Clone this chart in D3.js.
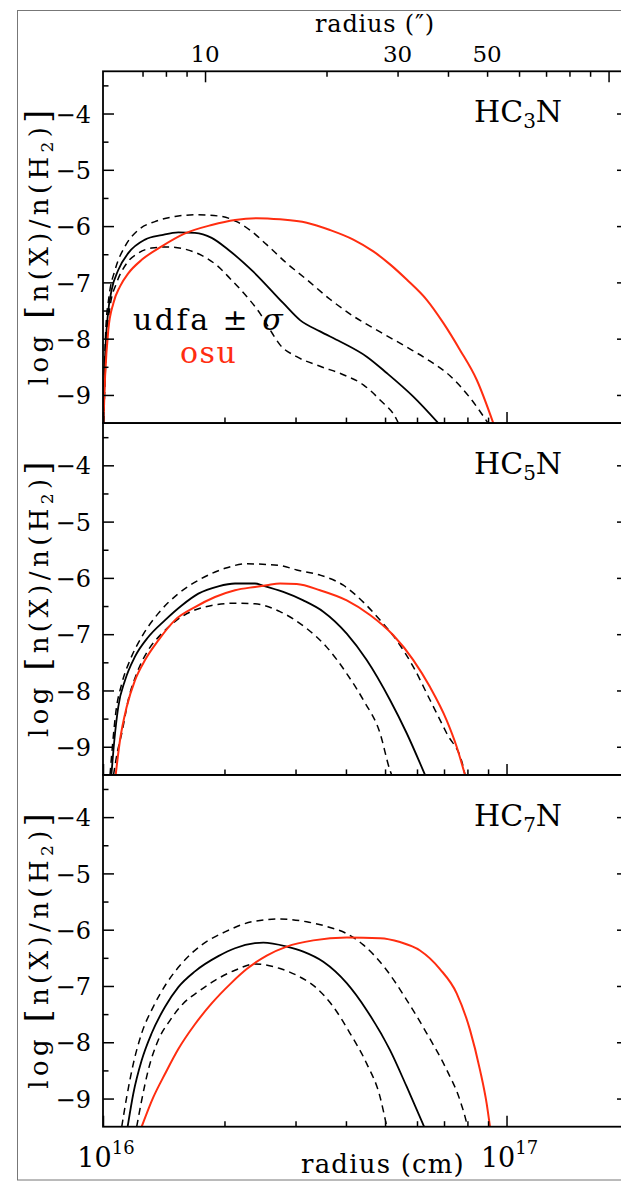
<!DOCTYPE html>
<html>
<head>
<meta charset="utf-8">
<script src="https://cdn.jsdelivr.net/npm/d3@7"></script>
<style>
  body { margin: 0; background: #fff; }
  svg { display: block; }
  text { font-family: "DejaVu Serif", serif; }
</style>
</head>
<body>
<svg id="chart" width="621" height="1183"></svg>
<script>
// Abundance profiles: [radius (1e16 cm), log n(X)/n(H2)]
const species = ["HC3N", "HC5N", "HC7N"];

const hc3nUdfa = [[1.002,-9.50],[1.012,-8.32],[1.027,-7.61],[1.051,-7.13],[1.091,-6.78],[1.155,-6.48],[1.271,-6.24],[1.398,-6.16],[1.537,-6.11],[1.690,-6.12],[1.859,-6.21],[2.044,-6.42],[2.357,-6.81],[2.798,-7.37],[3.078,-7.67],[3.450,-7.87],[3.867,-8.05],[4.503,-8.32],[5.048,-8.61],[5.875,-9.03],[6.774,-9.50]];
const hc3nUdfaHi = [[1.002,-9.50],[1.006,-8.90],[1.016,-7.84],[1.035,-7.25],[1.071,-6.78],[1.134,-6.36],[1.223,-6.07],[1.345,-5.92],[1.508,-5.83],[1.690,-5.80],[1.931,-5.82],[2.144,-5.92],[2.313,-6.07],[2.545,-6.33],[2.853,-6.66],[3.198,-6.95],[3.652,-7.30],[4.172,-7.60],[4.859,-7.88],[5.658,-8.15],[6.463,-8.40],[7.242,-8.66],[8.118,-9.05],[8.996,-9.50]];
const hc3nUdfaLo = [[1.004,-9.50],[1.021,-8.02],[1.041,-7.43],[1.081,-7.01],[1.145,-6.66],[1.223,-6.48],[1.320,-6.39],[1.452,-6.37],[1.597,-6.41],[1.756,-6.52],[1.931,-6.72],[2.064,-6.93],[2.270,-7.25],[2.449,-7.55],[2.593,-7.84],[2.746,-8.11],[3.020,-8.32],[3.450,-8.49],[3.940,-8.64],[4.417,-8.82],[4.859,-9.09],[5.345,-9.44],[5.394,-9.50]];
const hc3nOsu = [[1.002,-9.50],[1.012,-8.67],[1.031,-7.84],[1.061,-7.37],[1.102,-7.07],[1.155,-6.84],[1.247,-6.60],[1.398,-6.36],[1.597,-6.13],[1.859,-5.98],[2.124,-5.89],[2.404,-5.86],[2.746,-5.88],[3.198,-5.94],[3.652,-6.07],[4.172,-6.24],[4.676,-6.45],[5.144,-6.68],[5.658,-6.95],[6.342,-7.31],[6.970,-7.72],[7.667,-8.20],[8.434,-8.73],[9.272,-9.50]];

const hc5nUdfa = [[1.049,-9.50],[1.067,-8.88],[1.091,-8.29],[1.134,-7.82],[1.200,-7.40],[1.295,-7.05],[1.425,-6.75],[1.567,-6.49],[1.723,-6.28],[1.931,-6.15],[2.124,-6.10],[2.380,-6.10],[2.496,-6.14],[2.798,-6.25],[3.136,-6.40],[3.515,-6.60],[4.018,-6.99],[4.503,-7.46],[5.144,-8.17],[5.658,-8.76],[6.281,-9.50]];
const hc5nUdfaHi = [[1.041,-9.50],[1.055,-9.00],[1.075,-8.41],[1.113,-7.88],[1.167,-7.46],[1.247,-7.05],[1.371,-6.63],[1.537,-6.28],[1.756,-6.01],[2.006,-5.83],[2.270,-5.75],[2.746,-5.78],[3.020,-5.86],[3.450,-5.95],[3.940,-6.13],[4.417,-6.43],[4.859,-6.75],[5.344,-7.11],[5.875,-7.58],[6.463,-8.17],[7.107,-8.76],[7.813,-9.36],[7.889,-9.50]];
const hc5nUdfaLo = [[1.062,-9.50],[1.085,-9.10],[1.113,-8.76],[1.155,-8.17],[1.212,-7.70],[1.295,-7.28],[1.398,-6.99],[1.523,-6.75],[1.690,-6.57],[1.859,-6.49],[2.124,-6.45],[2.380,-6.46],[2.746,-6.60],[3.198,-6.90],[3.584,-7.23],[4.018,-7.70],[4.417,-8.17],[4.859,-8.76],[5.144,-9.42],[5.193,-9.50]];
const hc5nOsu = [[1.075,-9.50],[1.102,-8.88],[1.145,-8.29],[1.200,-7.82],[1.271,-7.46],[1.371,-7.11],[1.508,-6.75],[1.690,-6.52],[1.895,-6.34],[2.124,-6.22],[2.380,-6.16],[2.545,-6.13],[2.746,-6.10],[3.020,-6.11],[3.450,-6.22],[4.018,-6.40],[4.589,-6.66],[5.242,-7.02],[5.875,-7.46],[6.463,-7.94],[7.107,-8.53],[7.524,-9.00],[7.890,-9.50]];

const hc7nUdfa = [[1.151,-9.50],[1.189,-8.91],[1.247,-8.32],[1.320,-7.84],[1.425,-7.37],[1.537,-7.02],[1.690,-6.74],[1.931,-6.47],[2.124,-6.33],[2.380,-6.24],[2.496,-6.23],[2.853,-6.30],[3.136,-6.39],[3.515,-6.57],[4.018,-6.95],[4.503,-7.43],[5.144,-8.14],[5.658,-8.79],[6.250,-9.50]];
const hc7nUdfaHi = [[1.113,-9.50],[1.145,-8.97],[1.189,-8.38],[1.247,-7.84],[1.332,-7.37],[1.438,-6.95],[1.567,-6.60],[1.756,-6.27],[2.006,-6.04],[2.336,-5.86],[2.746,-5.81],[3.198,-5.86],[3.652,-5.96],[4.018,-6.07],[4.417,-6.27],[5.048,-6.72],[5.658,-7.25],[6.342,-7.84],[7.107,-8.49],[7.667,-9.03],[7.966,-9.44],[8.000,-9.50]];
const hc7nUdfaLo = [[1.212,-9.50],[1.247,-9.03],[1.295,-8.49],[1.371,-7.96],[1.466,-7.61],[1.581,-7.31],[1.723,-7.10],[1.895,-6.90],[2.124,-6.72],[2.380,-6.61],[2.496,-6.62],[2.746,-6.69],[3.020,-6.81],[3.385,-7.04],[3.722,-7.37],[4.094,-7.84],[4.503,-8.38],[4.859,-8.97],[5.048,-9.50]];
const hc7nOsu = [[1.247,-9.50],[1.332,-8.98],[1.425,-8.56],[1.537,-8.12],[1.690,-7.68],[1.859,-7.31],[2.084,-6.94],[2.270,-6.70],[2.545,-6.46],[2.853,-6.30],[3.320,-6.19],[4.018,-6.14],[4.859,-6.15],[5.446,-6.22],[6.104,-6.37],[6.840,-6.70],[7.524,-7.13],[8.118,-7.78],[8.594,-8.49],[8.929,-9.09],[9.099,-9.50]];

const panelSeries = [
  { udfa: hc3nUdfa, hi: hc3nUdfaHi, lo: hc3nUdfaLo, osu: hc3nOsu },
  { udfa: hc5nUdfa, hi: hc5nUdfaHi, lo: hc5nUdfaLo, osu: hc5nOsu },
  { udfa: hc7nUdfa, hi: hc7nUdfaHi, lo: hc7nUdfaLo, osu: hc7nOsu }
];

// Axis ticks
const yMajorTicks = [-9, -8, -7, -6, -5, -4];
const yMinorTicks = [-8.5, -7.5, -6.5, -5.5, -4.5, -3.5];
const xMajorTicks = [1e16, 1e17, 2e17];
const xMinorTicks = [2e16, 3e16, 4e16, 5e16, 6e16, 7e16, 8e16, 9e16];
const arcMajorTicks = [10, 100];
const arcMinorTicks = [7, 8, 9, 20, 30, 40, 50, 60, 70, 80, 90];
const arcLabels = [10, 30, 50];
const cmPerArcsec = 1.79e15;

const RED = "#ff2d10";
const left = 103, right = 628, top0 = 71.3, panelH = 351.8;

const svg = d3.select("#chart");

// outer frame
svg.append("rect")
  .attr("x", 17.5).attr("y", 10.5).attr("width", 640).attr("height", 1169.5)
  .attr("fill", "none").attr("stroke", "#777").attr("stroke-width", 1);

const x = d3.scaleLog().domain([1e16, 2e17]).range([left, right]);
const xArc = d3.scaleLog().domain([1e16 / cmPerArcsec, 2e17 / cmPerArcsec]).range([left, right]);

function styleTicks(g, w) {
  g.select(".domain").remove();
  g.selectAll(".tick line").attr("stroke", "#000").attr("stroke-width", w);
}

const lineGen = (y) => d3.line()
  .x(d => x(d[0] * 1e16))
  .y(d => y(d[1]))
  .curve(d3.curveMonotoneX);

panelSeries.forEach((s, i) => {
  const top = top0 + i * panelH;
  const bottom = top + panelH;
  const y = d3.scaleLinear().domain([-9.5, -3.25]).range([bottom, top]);
  const g = svg.append("g");

  const clipId = "clip" + i;
  svg.append("clipPath").attr("id", clipId)
    .append("rect").attr("x", left).attr("y", top).attr("width", right - left).attr("height", panelH);

  const lines = g.append("g").attr("clip-path", `url(#${clipId})`).attr("fill", "none");
  const lg = lineGen(y);
  lines.append("path").attr("d", lg(s.hi)).attr("stroke", "#000").attr("stroke-width", 1.5).attr("stroke-dasharray", "7,5");
  lines.append("path").attr("d", lg(s.lo)).attr("stroke", "#000").attr("stroke-width", 1.5).attr("stroke-dasharray", "7,5");
  lines.append("path").attr("d", lg(s.udfa)).attr("stroke", "#000").attr("stroke-width", 1.8);
  lines.append("path").attr("d", lg(s.osu)).attr("stroke", RED).attr("stroke-width", 2);

  // left axis
  const la = g.append("g").attr("transform", `translate(${left},0)`)
    .call(d3.axisLeft(y).tickValues(yMajorTicks).tickSize(-11).tickPadding(12)
      .tickFormat(d => "\u2212" + Math.abs(d)));
  styleTicks(la, 1.5);
  la.selectAll(".tick text").attr("font-size", 24).attr("font-family", "DejaVu Serif")
    .style("fill", "#000").attr("dy", "0.36em");
  const lm = g.append("g").attr("transform", `translate(${left},0)`)
    .call(d3.axisLeft(y).tickValues(yMinorTicks).tickSize(-5.5).tickFormat(""));
  styleTicks(lm, 1.5);

  // right axis
  const ra = g.append("g").attr("transform", `translate(${right},0)`)
    .call(d3.axisRight(y).tickValues(yMajorTicks).tickSize(-11).tickFormat(""));
  styleTicks(ra, 1.5);
  const rm = g.append("g").attr("transform", `translate(${right},0)`)
    .call(d3.axisRight(y).tickValues(yMinorTicks).tickSize(-5.5).tickFormat(""));
  styleTicks(rm, 1.5);

  // bottom ticks
  const bM = g.append("g").attr("transform", `translate(0,${bottom})`)
    .call(d3.axisBottom(x).tickValues(xMajorTicks).tickSize(-11).tickFormat(""));
  styleTicks(bM, 1.5);
  const bm = g.append("g").attr("transform", `translate(0,${bottom})`)
    .call(d3.axisBottom(x).tickValues(xMinorTicks).tickSize(-5.5).tickFormat(""));
  styleTicks(bm, 1.5);

  // panel frame
  g.append("rect").attr("x", left).attr("y", top).attr("width", right - left).attr("height", panelH)
    .attr("fill", "none").attr("stroke", "#000").attr("stroke-width", 1.8);

  // species label with subscript
  const m = species[i].match(/^(HC)(\d)(N)$/);
  const lab = g.append("text").attr("x", 474).attr("y", top + 51).attr("font-size", 30).style("fill", "#000");
  lab.append("tspan").text(m[1]);
  lab.append("tspan").attr("font-size", 20).attr("dy", 6).text(m[2]);
  lab.append("tspan").attr("dy", -6).text(m[3]);

  // y axis title
  const yt = g.append("text")
    .attr("transform", `translate(48,${top + 174}) rotate(-90)`)
    .attr("text-anchor", "middle").attr("font-size", 26)
    .attr("letter-spacing", 4.4).style("fill", "#000");
  yt.append("tspan").text("log ");
  yt.append("tspan").attr("font-size", 33).attr("dy", 1).text("[");
  yt.append("tspan").attr("dy", -1).text("n(X)/n(H");
  yt.append("tspan").attr("font-size", 17).attr("dy", 5).text("2");
  yt.append("tspan").attr("dy", -5).text(")");
  yt.append("tspan").attr("font-size", 33).attr("dy", 1).text("]");
});

// top axis in arcseconds
const ta = svg.append("g").attr("transform", `translate(0,${top0})`)
  .call(d3.axisTop(xArc).tickValues(arcMajorTicks).tickSize(-11).tickFormat(""));
styleTicks(ta, 1.5);
const tm = svg.append("g").attr("transform", `translate(0,${top0})`)
  .call(d3.axisTop(xArc).tickValues(arcMinorTicks).tickSize(-5.5).tickFormat(""));
styleTicks(tm, 1.5);
svg.append("g").selectAll("text").data(arcLabels).join("text")
  .attr("x", d => xArc(d)).attr("y", top0 - 9)
  .attr("text-anchor", "middle").attr("font-size", 23).style("fill", "#000").text(d => d);
svg.append("text").attr("x", 375).attr("y", 32).attr("text-anchor", "middle")
  .attr("font-size", 24).attr("letter-spacing", 0.8).style("fill", "#000").text("radius (\u2033)");

// bottom axis labels
const yBottom = top0 + 3 * panelH;
[1e16, 1e17].forEach(v => {
  const t = svg.append("text").attr("x", x(v) + 3).attr("y", yBottom + 40)
    .attr("text-anchor", "middle").attr("font-size", 27).style("fill", "#000");
  t.append("tspan").text("10");
  t.append("tspan").attr("font-size", 18).attr("dy", -13).text(Math.round(Math.log10(v)));
});
svg.append("text").attr("x", 383).attr("y", yBottom + 46).attr("text-anchor", "middle")
  .attr("font-size", 26).attr("letter-spacing", 1.2).style("fill", "#000").text("radius (cm)");

// legend
const leg = svg.append("text").attr("x", 133).attr("y", 330).attr("font-size", 30)
  .attr("letter-spacing", 2.5).style("fill", "#000");
leg.append("tspan").text("udfa \u00b1 ");
leg.append("tspan").attr("font-style", "italic").text("\u03c3");
svg.append("text").attr("x", 180).attr("y", 363).attr("font-size", 30)
  .attr("letter-spacing", 1.5).style("fill", RED).text("osu");
</script>
</body>
</html>
